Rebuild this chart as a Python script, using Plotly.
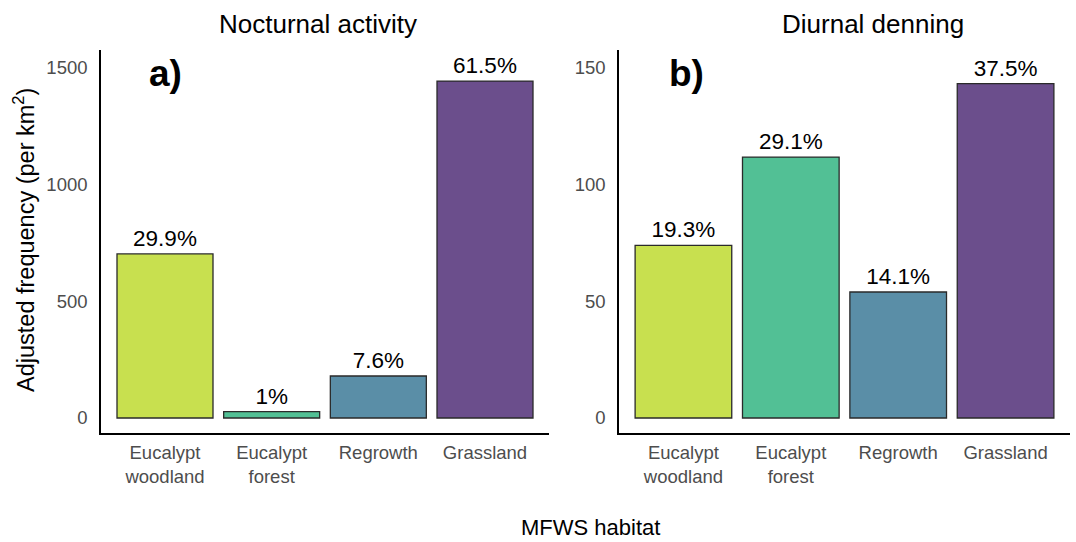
import plotly.graph_objects as go
from plotly.subplots import make_subplots

categories = ["Eucalypt<br>woodland", "Eucalypt<br>forest", "Regrowth", "Grassland"]
nocturnal_values = [703, 27, 180, 1444]
nocturnal_labels = ["29.9%", "1%", "7.6%", "61.5%"]
diurnal_values = [74.0, 111.8, 54.0, 143.3]
diurnal_labels = ["19.3%", "29.1%", "14.1%", "37.5%"]
bar_colors = ["#C8E04F", "#52C095", "#5A8EA7", "#6B4E8C"]
panel_titles = ["Nocturnal activity", "Diurnal denning"]
panel_tags = ["a)", "b)"]

FONT = "Liberation Sans, Arial, sans-serif"

fig = make_subplots(rows=1, cols=2)

for col, (vals, labs) in enumerate([(nocturnal_values, nocturnal_labels),
                                    (diurnal_values, diurnal_labels)], start=1):
    fig.add_trace(go.Bar(
        x=categories, y=vals, text=labs, textposition="outside",
        textfont=dict(size=22.5, color="black", family=FONT),
        marker=dict(color=bar_colors, line=dict(color="#2a2a2a", width=1.3)),
        width=0.9, cliponaxis=False, showlegend=False,
    ), row=1, col=col)

ydom = [1 - 433 / 542, 1 - 50 / 542]
axis_common = dict(showline=True, linecolor="black", linewidth=1.6, showgrid=False,
                   zeroline=False, ticks="", tickfont=dict(size=18.5, color="#4D4D4D", family=FONT))

fig.update_layout(
    width=1076, height=542, margin=dict(l=0, r=0, t=0, b=0),
    plot_bgcolor="white", paper_bgcolor="white",
    font=dict(family=FONT), bargap=0.1,
    xaxis=dict(domain=[101 / 1076, 549 / 1076], range=[-0.6, 3.6], ticklabelstandoff=2, **axis_common),
    xaxis2=dict(domain=[619 / 1076, 1070 / 1076], range=[-0.6, 3.6], ticklabelstandoff=2, **axis_common),
    yaxis=dict(domain=ydom, range=[-64.3, 1577], tickvals=[0, 500, 1000, 1500], ticklabelstandoff=8, **axis_common),
    yaxis2=dict(domain=ydom, range=[-6.43, 157.7], tickvals=[0, 50, 100, 150], ticklabelstandoff=8, **axis_common),
)

def ann(text, x, y, size, **kw):
    return dict(text=text, x=x / 1076, y=1 - y / 542, xref="paper", yref="paper",
                xanchor="center", yanchor="middle", showarrow=False,
                font=dict(size=size, color="black", family=FONT), **kw)

annotations = [
    ann(panel_titles[0], 318, 24, 26),
    ann(panel_titles[1], 873, 24, 26),
    ann("<b>" + panel_tags[0] + "</b>", 165, 73, 37),
    ann("<b>" + panel_tags[1] + "</b>", 686, 73, 37),
    ann("Adjusted frequency (per km<sup>2</sup>)", 24, 240, 23.5, textangle=-90),
    ann("MFWS habitat", 590, 527, 22),
]
fig.update_layout(annotations=annotations)

fig.write_html("out.html")
